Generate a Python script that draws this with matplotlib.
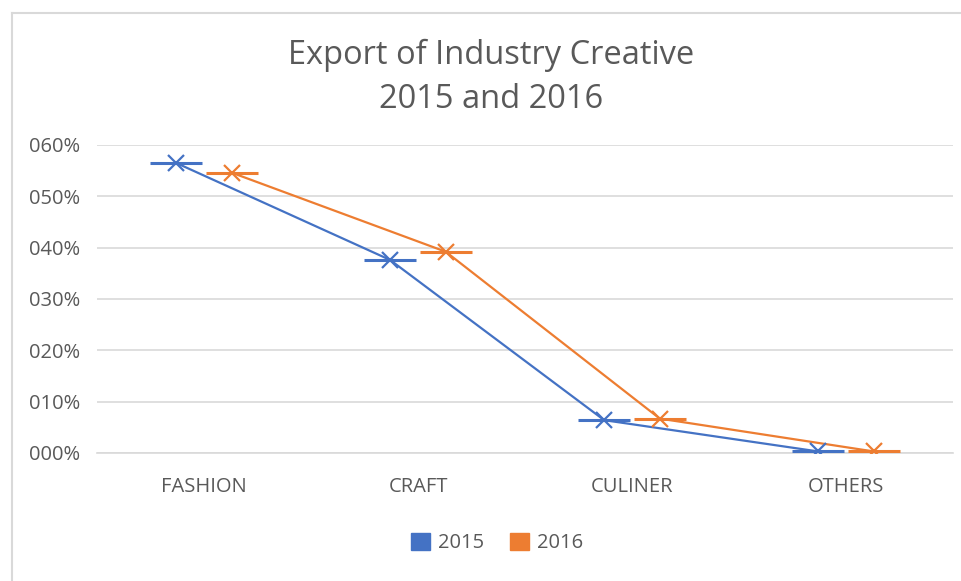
import matplotlib
matplotlib.use("Agg")
import matplotlib.pyplot as plt
from matplotlib.patches import Patch
from matplotlib.lines import Line2D
import numpy as np

categories = ["FASHION", "CRAFT", "CULINER", "OTHERS"]
values_2015 = [56.5, 37.6, 6.4, 0.3]
values_2016 = [54.6, 39.2, 6.7, 0.3]
ytick_values = [0, 10, 20, 30, 40, 50, 60]
ytick_labels = ["000%", "010%", "020%", "030%", "040%", "050%", "060%"]

plt.rcParams['font.family'] = ['Open Sans', 'DejaVu Sans']
W, H = 961, 581
fig = plt.figure(figsize=(W / 100, H / 100), dpi=100)
fig.patch.set_facecolor("white")

# chart frame lines
fig.add_artist(Line2D([12 / W, 12 / W], [0, 1 - 13 / H], color="#D9D9D9", lw=1.5))
fig.add_artist(Line2D([12 / W, 1], [1 - 13 / H, 1 - 13 / H], color="#D9D9D9", lw=1.5))

left, right, top, bottom = 97, 953, 145, 453
ax = fig.add_axes([left / W, 1 - bottom / H, (right - left) / W, (bottom - top) / H])

blue = "#4472C4"
orange = "#ED7D31"
x = np.arange(len(categories))
off = 0.13
for vals, col, dx in [(values_2015, blue, -off), (values_2016, orange, off)]:
    xs = x + dx
    ax.plot(xs, vals, color=col, lw=1.6, zorder=3)
    ax.plot(xs, vals, linestyle="none", marker="_", markersize=37, markeredgewidth=2.2, color=col, zorder=4)
    ax.plot(xs, vals, linestyle="none", marker="x", markersize=11, markeredgewidth=1.6, color=col, zorder=4)

ax.set_xlim(-0.5, len(categories) - 0.5)
ax.set_ylim(0, 60)
ax.set_yticks(ytick_values)
ax.set_yticklabels(ytick_labels)
ax.set_xticks(x)
ax.set_xticklabels(categories)
ax.grid(axis="y", color="#D9D9D9", lw=1.2)
ax.set_axisbelow(True)
for s in ["top", "right"]:
    ax.spines[s].set_visible(False)
ax.spines["left"].set_visible(False)
ax.spines["bottom"].set_color("#D9D9D9")
ax.spines["bottom"].set_linewidth(1.2)
ax.tick_params(axis="both", length=0, colors="#595959", labelsize=14.5)
ax.tick_params(axis="y", pad=12)
ax.tick_params(axis="x", pad=17)

fig.text(0.511, 1 - 55 / H, "Export of Industry Creative", ha="center", va="center",
         fontsize=23.5, color="#595959")
fig.text(0.511, 1 - 100 / H, "2015 and 2016", ha="center", va="center",
         fontsize=23.5, color="#595959")

handles = [Patch(facecolor=blue, edgecolor=blue), Patch(facecolor=orange, edgecolor=orange)]
fig.legend(handles, ["2015", "2016"], loc="center", bbox_to_anchor=(497 / W, 1 - 543 / H),
           ncol=2, frameon=False, fontsize=14.5, labelcolor="#595959",
           handlelength=0.95, handleheight=0.95, handletextpad=0.4, columnspacing=1.3)

fig.savefig("out.png", dpi=100)
